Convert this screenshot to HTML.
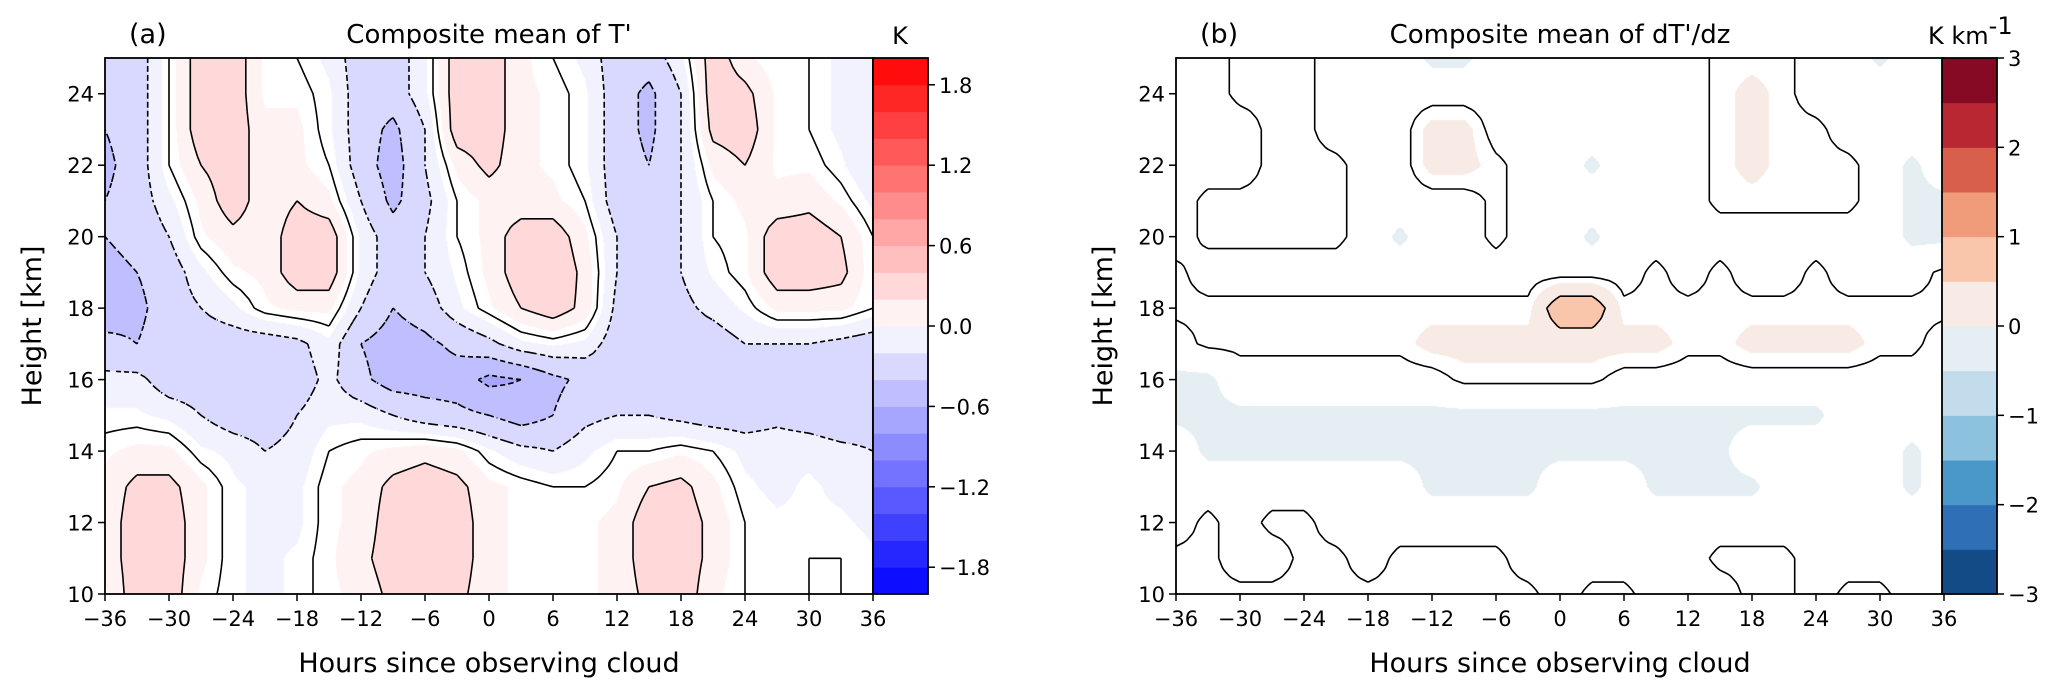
<!DOCTYPE html>
<html><head><meta charset="utf-8">
<style>
body{margin:0;background:#fff;}
#wrap{position:relative;width:2067px;height:694px;overflow:hidden;background:#fff;font-family:"Liberation Sans","DejaVu Sans",sans-serif;}
canvas{position:absolute;}
svg{position:absolute;left:0;top:0;}
text{font-family:"DejaVu Sans","Liberation Sans",sans-serif;fill:#000;}
</style></head>
<body>
<div id="wrap">
<canvas id="ca" width="768" height="536" style="left:105px;top:58px"></canvas>
<canvas id="cb" width="766" height="536" style="left:1176px;top:58px"></canvas>
<svg id="s" width="2067" height="694"></svg>
</div>
<script>
const hours=[-36,-33,-30,-27,-24,-21,-18,-15,-12,-9,-6,-3,0,3,6,9,12,15,18,21,24,27,30,33,36];
const heights=[25,24,23,22,21,20,19,18,17,16,15,14,13,12,11,10];
const xTicks=[-36,-30,-24,-18,-12,-6,0,6,12,18,24,30,36];
const yTicks=[10,12,14,16,18,20,22,24];
const cbTicksA=[-1.8,-1.2,-0.6,0.0,0.6,1.2,1.8];
const cbTicksB=[-3,-2,-1,0,1,2,3];
const gridA=[
[-0.2,-0.3,0.0,0.3,0.3,0.05,0.0,-0.1,-0.3,-0.3,-0.1,0.3,0.3,0.1,0.0,-0.1,-0.3,-0.3,-0.1,0.3,0.1,0.0,0.0,-0.1,-0.2],
[-0.3,-0.3,0.0,0.3,0.3,0.05,0.05,-0.05,-0.3,-0.3,-0.1,0.3,0.3,0.1,0.05,-0.05,-0.3,-0.45,-0.2,0.3,0.25,0.05,0.0,-0.1,-0.2],
[-0.4,-0.3,0.0,0.3,0.3,0.1,0.1,-0.05,-0.3,-0.45,-0.2,0.3,0.3,0.1,0.05,-0.05,-0.3,-0.45,-0.2,0.25,0.3,0.05,0.0,-0.1,-0.2],
[-0.45,-0.3,0.0,0.2,0.3,0.1,0.1,0.0,-0.3,-0.5,-0.2,0.1,0.25,0.1,0.05,-0.05,-0.3,-0.4,-0.2,0.1,0.2,0.05,0.05,-0.05,-0.2],
[-0.4,-0.3,-0.1,0.1,0.3,0.1,0.2,0.1,-0.2,-0.45,-0.25,0.0,0.1,0.1,0.1,0.0,-0.3,-0.3,-0.2,0.0,0.1,0.1,0.15,0.05,-0.1],
[-0.4,-0.35,-0.2,0.05,0.15,0.1,0.3,0.3,-0.1,-0.3,-0.2,0.0,0.1,0.3,0.3,0.1,-0.2,-0.3,-0.2,0.0,0.05,0.3,0.3,0.2,0.0],
[-0.45,-0.4,-0.3,-0.1,0.05,0.1,0.3,0.3,-0.1,-0.3,-0.2,-0.05,0.1,0.3,0.35,0.15,-0.2,-0.3,-0.2,-0.05,0.05,0.3,0.3,0.25,0.0],
[-0.5,-0.45,-0.3,-0.2,-0.1,0.05,0.1,0.1,-0.2,-0.4,-0.3,-0.1,0.05,0.2,0.3,0.15,-0.25,-0.4,-0.25,-0.15,-0.05,0.1,0.1,0.1,0.0],
[-0.35,-0.4,-0.3,-0.3,-0.3,-0.3,-0.25,-0.1,-0.4,-0.5,-0.45,-0.35,-0.25,-0.1,-0.05,-0.1,-0.3,-0.4,-0.3,-0.3,-0.2,-0.2,-0.2,-0.25,-0.3],
[-0.15,-0.15,-0.3,-0.3,-0.35,-0.3,-0.3,-0.15,-0.35,-0.5,-0.5,-0.5,-0.65,-0.6,-0.45,-0.35,-0.3,-0.3,-0.3,-0.3,-0.3,-0.25,-0.35,-0.4,-0.3],
[-0.05,-0.05,-0.1,-0.2,-0.3,-0.3,-0.2,-0.1,-0.1,-0.2,-0.3,-0.35,-0.4,-0.5,-0.4,-0.25,-0.2,-0.2,-0.25,-0.3,-0.3,-0.25,-0.3,-0.35,-0.3],
[0.05,0.1,0.1,-0.05,-0.1,-0.2,-0.15,0.0,0.05,0.1,0.15,0.1,-0.05,-0.15,-0.2,-0.1,0.0,0.0,0.05,0.0,-0.1,-0.1,-0.1,-0.15,-0.2],
[0.1,0.25,0.25,0.1,-0.05,-0.1,-0.1,0.05,0.1,0.25,0.3,0.25,0.1,0.05,0.0,0.0,0.05,0.2,0.25,0.1,-0.05,-0.1,-0.05,-0.1,-0.15],
[0.1,0.3,0.3,0.1,-0.05,-0.1,-0.1,0.05,0.1,0.3,0.4,0.3,0.1,0.05,0.05,0.05,0.1,0.3,0.3,0.15,0.0,-0.05,-0.05,-0.05,-0.1],
[0.1,0.3,0.3,0.1,-0.05,-0.1,-0.05,0.05,0.15,0.3,0.3,0.3,0.1,0.05,0.05,0.05,0.1,0.3,0.3,0.15,0.0,-0.05,0.0,0.0,-0.05],
[0.05,0.3,0.3,0.05,-0.05,-0.1,-0.05,0.05,0.1,0.25,0.3,0.25,0.1,0.05,0.05,0.05,0.1,0.25,0.3,0.1,0.0,-0.05,0.0,0.0,-0.05]];
const gridB=[
[0,0,0.15,0.15,0.15,0,0,0,-0.3,-0.3,0,0,0,0,0,0,0,0.15,0.15,0.15,0,0,-0.3,0,0],
[0,0,0.15,0.15,0.15,0,0,0,0,0,0,0,0,0,0,0,0,0.15,0.3,0.15,0,0,0,0,0],
[0,0,0,0.15,0.15,0,0,0,0.3,0.3,0,0,0,0,0,0,0,0.15,0.3,0.15,0.15,0,0,0,0],
[0,0,0,0.15,0.15,0.15,0,0,0.3,0.3,0.15,0,0,-0.3,0,0,0,0.15,0.3,0.15,0.15,0.15,0,-0.3,0],
[0,0.15,0.15,0.15,0.15,0.15,0,0,0,0,0.15,0,0,0,0,0,0,0.15,0.15,0.15,0.15,0.15,0,-0.3,-0.3],
[0,0.15,0.15,0.15,0.15,0.15,0,-0.3,0,0,0.15,0,0,-0.3,0,0,0,0,0,0,0,0,0,-0.3,-0.3],
[0.15,0,0,0,0,0,0,0,0,0,0,0,0,0,0,0.15,0,0.15,0,0,0.15,0,0,0,0.15],
[0.15,0.15,0.15,0.15,0.15,0.15,0.15,0.15,0.15,0.15,0.15,0.15,0.75,0.75,0.15,0.15,0.15,0.15,0.15,0.15,0.15,0.15,0.15,0.15,0.15],
[0,0.15,0.15,0.15,0.15,0.15,0.15,0.15,0.3,0.3,0.3,0.3,0.3,0.3,0.3,0.3,0.15,0.15,0.3,0.3,0.3,0.3,0.15,0.15,0],
[-0.3,-0.3,0,0,0,0,0,0,0,0.15,0.15,0.15,0.15,0.15,0,0,0,0,0,0,0,0,0,0,0],
[-0.3,-0.3,-0.3,-0.3,-0.3,-0.3,-0.3,-0.3,-0.3,-0.3,-0.3,-0.3,-0.3,-0.3,-0.3,-0.3,-0.3,-0.3,-0.3,-0.3,-0.3,0,0,0,0],
[0,-0.3,-0.3,-0.3,-0.3,-0.3,-0.3,-0.3,-0.3,-0.3,-0.3,-0.3,-0.3,-0.3,-0.3,-0.3,-0.3,-0.3,0,0,0,0,0,-0.3,0],
[0,0,0,0,0,0,0,0,-0.3,-0.3,-0.3,-0.3,0,0,0,-0.3,-0.3,-0.3,-0.3,0,0,0,0,-0.3,0],
[0,0.15,0,0.15,0.15,0,0,0,0,0,0,0,0,0,0,0,0,0,0,0,0,0,0,0,0],
[0.15,0.15,0,0,0.15,0.15,0,0.15,0.15,0.15,0.15,0,0,0,0,0,0,0.15,0.15,0.15,0,0,0,0,0],
[0.15,0.15,0.15,0.15,0.15,0.15,0.15,0.15,0.15,0.15,0.15,0.15,0,0.15,0.15,0,0,0,0.15,0.15,0,0.15,0.15,0,0]];
const contourLevelsA=[-0.6,-0.4,-0.2,0,0.2];
const contourLevelsB=[0.1,0.5];
const rdbu=['#134b87','#2f6fb5','#4a97c9','#8dc2de','#c3dcec','#e5eef3','#f8ebe5','#f9c6ac','#f09c7b','#d85f4c','#b92732','#870a24'];

const NS='http://www.w3.org/2000/svg';
const svg=document.getElementById('s');
function mk(tag,attrs,parent){const e=document.createElementNS(NS,tag);for(const k in attrs)e.setAttribute(k,attrs[k]);(parent||svg).appendChild(e);return e;}
function bwr(v){const lo=-2,st=0.2;let b=Math.floor((v-lo)/st);b=Math.max(0,Math.min(19,b));const c=lo+st*(b+0.5);const t=(c+2)/4;
 if(t<0.5)return [510*t,510*t,255];return [255,255*(2-2*t),255*(2-2*t)];}
function hex(h){return [parseInt(h.substr(1,2),16),parseInt(h.substr(3,2),16),parseInt(h.substr(5,2),16)];}
function rdbuC(v){let b=Math.floor((v+3)/0.5);b=Math.max(0,Math.min(11,b));return hex(rdbu[b]);}
function sample(g,hx,hy){
 const fx=(hx+36)/3, fy=(25-hy);const i=Math.max(0,Math.min(23,Math.floor(fx))), j=Math.max(0,Math.min(14,Math.floor(fy)));
 const tx=fx-i, ty=fy-j;
 return g[j][i]*(1-tx)*(1-ty)+g[j][i+1]*tx*(1-ty)+g[j+1][i]*(1-tx)*ty+g[j+1][i+1]*tx*ty;}

function panel(opt){
 const X0=opt.x0,X1=X0+768,Y0=58,Y1=594;
 const xs=h=>X0+(h+36)/72*768, ys=k=>Y1-(k-10)/15*(Y1-Y0);
 const cv=document.getElementById(opt.canvas);const ctx=cv.getContext('2d');
 const W=cv.width,H=cv.height;const img=ctx.createImageData(W,H);
 for(let py=0;py<H;py++)for(let px=0;px<W;px++){
  const hx=-36+(px+0.5)/768*72, hy=25-(py+0.5)/536*15;
  const v=sample(opt.grid,hx,hy);let c;
  if(Math.abs(v)<opt.white)c=[255,255,255];else c=opt.cmap(v);
  const o=(py*W+px)*4;img.data[o]=c[0];img.data[o+1]=c[1];img.data[o+2]=c[2];img.data[o+3]=255;}
 ctx.putImageData(img,0,0);
 const S=4,NX=24*S+1,NY=15*S+1;const F=[];
 for(let j=0;j<NY;j++){F.push([]);for(let i=0;i<NX;i++)F[j].push(sample(opt.grid,-36+i*3/S,25-j/S));}
 const gC=mk('g',{fill:'none',stroke:'#000','stroke-width':1.6});
 opt.levels.forEach(L=>{
  let d='';
  const P=(i,j)=>[xs(-36+i*3/S),ys(25-j/S)];
  for(let j=0;j<NY-1;j++)for(let i=0;i<NX-1;i++){
   const a=F[j][i],b=F[j][i+1],c=F[j+1][i+1],e=F[j+1][i];
   const pts=[];
   const ed=(v1,v2,p1,p2)=>{if((v1<L)!==(v2<L)){const t=(L-v1)/(v2-v1);pts.push([p1[0]+(p2[0]-p1[0])*t,p1[1]+(p2[1]-p1[1])*t]);}};
   ed(a,b,P(i,j),P(i+1,j));ed(b,c,P(i+1,j),P(i+1,j+1));ed(c,e,P(i+1,j+1),P(i,j+1));ed(e,a,P(i,j+1),P(i,j));
   for(let k=0;k+1<pts.length;k+=2)d+='M'+pts[k][0].toFixed(1)+' '+pts[k][1].toFixed(1)+'L'+pts[k+1][0].toFixed(1)+' '+pts[k+1][1].toFixed(1);
  }
  const p=mk('path',{d:d},gC);
  
  
  if(L<0)p.setAttribute('stroke-dasharray','5 3');
 });
 mk('rect',{x:X0,y:Y0,width:768,height:Y1-Y0,fill:'none',stroke:'#000','stroke-width':1.8,});
 const gx=mk('g',{});
 xTicks.forEach(t=>{mk('line',{x1:xs(t),x2:xs(t),y1:Y1,y2:Y1+7,stroke:'#000','stroke-width':1.5},gx);
  const tx=mk('text',{x:xs(t),y:Y1+32,'text-anchor':'middle','font-size':21},gx);tx.textContent=String(t).replace('-','\u2212');});
 const gy=mk('g',{});
 yTicks.forEach(t=>{mk('line',{x1:X0-7,x2:X0,y1:ys(t),y2:ys(t),stroke:'#000','stroke-width':1.5},gy);
  const tx=mk('text',{x:X0-11,y:ys(t)+8,'text-anchor':'end','font-size':21},gy);tx.textContent=t;});
 let t=mk('text',{x:X0+384,y:672,'text-anchor':'middle','font-size':27,});t.textContent='Hours since observing cloud';
 t=mk('text',{x:X0-64,y:326,'text-anchor':'middle','font-size':27,transform:`rotate(-90 ${X0-64} 326)`,});t.textContent='Height [km]';
 t=mk('text',{x:X0+24,y:43,'font-size':27,});t.textContent=opt.label;
 t=mk('text',{x:X0+384,y:43,'text-anchor':'middle','font-size':26,});t.textContent=opt.title;
 const CX=opt.cbx,CW=55;const gcb=mk('g',{});
 const n=opt.cbColors.length, bh=(Y1-Y0)/n;
 opt.cbColors.forEach((c,k)=>{const r=mk('rect',{x:CX,y:Y1-(k+1)*bh,width:CW,height:bh+0.5,fill:c},gcb);});
 mk('rect',{x:CX,y:Y0,width:CW,height:Y1-Y0,fill:'none',stroke:'#000','stroke-width':1.8},gcb);
 opt.cbTicks.forEach(v=>{const y=Y1-(v-opt.cbMin)/(opt.cbMax-opt.cbMin)*(Y1-Y0);
  mk('line',{x1:CX+CW,x2:CX+CW+7,y1:y,y2:y,stroke:'#000','stroke-width':1.5},gcb);
  const tx=mk('text',{x:CX+CW+11,y:y+8,'font-size':21},gcb);tx.textContent=opt.fmt(v);});
}
const colsA=[];for(let k=0;k<20;k++){const c=bwr(-2+0.2*k+0.1);colsA.push(`rgb(${c.map(Math.round).join(',')})`);}
panel({id:'panel-a',x0:105,canvas:'ca',grid:gridA,cmap:bwr,white:0.07,levels:contourLevelsA,label:'(a)',title:"Composite mean of T'",
 cbx:873,cbColors:colsA,cbTicks:cbTicksA,cbMin:-2,cbMax:2,fmt:v=>v.toFixed(1).replace('-','\u2212')});
panel({id:'panel-b',x0:1176,canvas:'cb',grid:gridB,cmap:rdbuC,white:0.22,levels:contourLevelsB,label:'(b)',title:"Composite mean of dT'/dz",
 cbx:1942,cbColors:rdbu,cbTicks:cbTicksB,cbMin:-3,cbMax:3,fmt:v=>String(v).replace('-','\u2212')});
let u=mk('text',{x:900,y:44,'text-anchor':'middle','font-size':24,});u.textContent='K';
u=mk('text',{x:1928,y:44,'font-size':24,});
u.innerHTML='K km<tspan dy="-10">-1</tspan>';
</script>
</body></html>
